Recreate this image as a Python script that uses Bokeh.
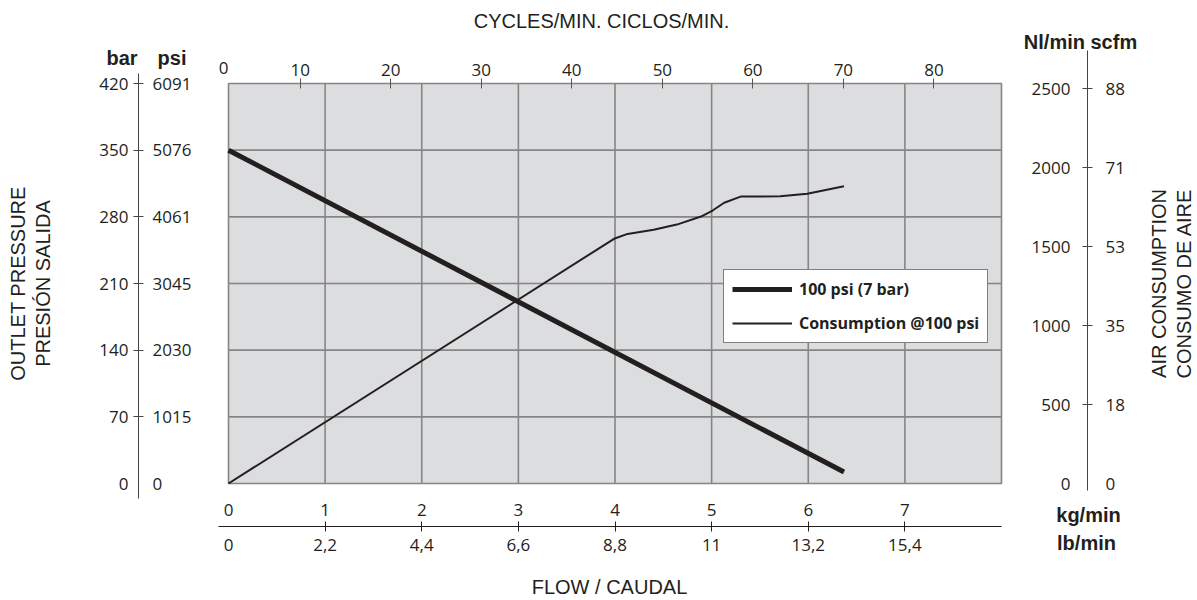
import math
from bokeh.plotting import figure
from bokeh.models import (Range1d, LinearAxis, FixedTicker, Label, Legend, LegendItem)
from bokeh.embed import file_html
from bokeh.resources import INLINE

# ---------------- data ----------------
kg_ticks = [0, 1, 2, 3, 4, 5, 6, 7]
lb_labels = ["0", "2,2", "4,4", "6,6", "8,8", "11", "13,2", "15,4"]
cycles_ticks = [0, 10, 20, 30, 40, 50, 60, 70, 80]
bar_ticks = [0, 70, 140, 210, 280, 350, 420]
psi_labels = ["0", "1015", "2030", "3045", "4061", "5076", "6091"]
nl_ticks = [0, 500, 1000, 1500, 2000, 2500]
scfm_labels = ["0", "18", "35", "53", "71", "88"]

# outlet pressure at 100 psi (7 bar) supply, bar vs kg/min
pressure_flow = [0.0, 6.37]
pressure_bar = [350, 12]

# air consumption @100 psi (Nl/min) vs kg/min
cons_flow = [0.0, 3.99, 4.13, 4.40, 4.64, 4.89, 5.01, 5.13, 5.30, 5.51, 5.71, 5.99, 6.18, 6.37]
cons_nl = [0, 1549, 1580, 1606, 1639, 1690, 1728, 1777, 1816, 1816, 1818, 1834, 1858, 1882]

# ---------------- layout ----------------
W, H = 1196, 598                 # canvas (page coordinates)
FLOW_MAX = 8                     # right edge of the chart area (kg/min)
P_MAX = bar_ticks[-1]            # top edge of the chart area (bar)
NL_MAX = 2532                    # Nl/min at the top edge
FX0, FX1, FY0, FY1 = 228, 1001, 83, 483   # chart area on the page (px)


def kx(px):   # page x -> kg/min
    return (px - FX0) * FLOW_MAX / (FX1 - FX0)


def by(py):   # page y -> bar
    return (FY1 - py) * P_MAX / (FY1 - FY0)


def ny(py):   # page y -> Nl/min
    return (FY1 - py) * NL_MAX / (FY1 - FY0)


CYC_A, CYC_S = 616.6, 9.051      # cycles scale: page x at 45 cycles, px per cycle


def cx(px):   # page x -> cycles/min
    return 45 + (px - CYC_A) / CYC_S


INK = "#231f20"
GRIDC = "#858585"
AXC = "#444444"
TICKF = "Open Sans"
TITLEF = "Liberation Sans"
TS = "17px"

p = figure(width=W, height=H, output_backend="svg", toolbar_location=None,
           x_range=Range1d(kx(0), kx(W)), y_range=Range1d(by(H), by(0)),
           x_axis_type=None, y_axis_type=None, min_border=0)
p.min_border_left = p.min_border_right = p.min_border_top = p.min_border_bottom = 0
p.outline_line_color = None
p.background_fill_color = "white"
p.border_fill_color = "white"
p.title.visible = False

p.extra_x_ranges = {"cyc": Range1d(cx(0), cx(W))}
p.extra_y_ranges = {"nl": Range1d(ny(H), ny(0))}

# chart area + grid
p.quad(left=0, right=FLOW_MAX, bottom=0, top=P_MAX, fill_color="#dcdddf", line_color=None)
p.segment(x0=kg_ticks[1:], y0=[0] * 7, x1=kg_ticks[1:], y1=[P_MAX] * 7,
          line_color=GRIDC, line_width=1.6)
p.segment(x0=[0] * 5, y0=bar_ticks[1:-1], x1=[FLOW_MAX] * 5, y1=bar_ticks[1:-1],
          line_color=GRIDC, line_width=1.6)
p.quad(left=0, right=FLOW_MAX, bottom=0, top=P_MAX, fill_color=None,
       line_color=GRIDC, line_width=1.6)


def style(ax):
    ax.major_label_text_font = TICKF
    ax.major_label_text_font_size = TS
    ax.major_label_text_color = INK
    ax.minor_tick_line_color = None


def bare(ax):
    ax.axis_line_color = None
    ax.major_tick_line_color = None
    ax.major_tick_in = 0
    ax.major_tick_out = 0


def lined(ax, color=AXC):
    ax.axis_line_color = color
    ax.major_tick_line_color = color
    ax.major_tick_in = 5
    ax.major_tick_out = 5


# ---- left scale: bar (labels left) / psi (labels right) ----
LX = kx(138)
bar_axis = LinearAxis(ticker=FixedTicker(ticks=bar_ticks[1:]), fixed_location=LX,
                      bounds=(by(498), by(73)))
style(bar_axis)
lined(bar_axis)
bar_axis.major_label_standoff = 5
p.add_layout(bar_axis, "left")

bar0_axis = LinearAxis(ticker=FixedTicker(ticks=bar_ticks[:1]), fixed_location=LX)
style(bar0_axis)
bare(bar0_axis)
bar0_axis.major_label_standoff = 10
p.add_layout(bar0_axis, "left")

psi_axis = LinearAxis(ticker=FixedTicker(ticks=bar_ticks), fixed_location=LX,
                      major_label_overrides={t: s for t, s in zip(bar_ticks, psi_labels)})
style(psi_axis)
bare(psi_axis)
psi_axis.major_label_standoff = 14
p.add_layout(psi_axis, "right")

# ---- right scale: Nl/min (labels left) / scfm (labels right) ----
RX = kx(1087)
nl_axis = LinearAxis(y_range_name="nl", ticker=FixedTicker(ticks=nl_ticks), fixed_location=RX)
style(nl_axis)
bare(nl_axis)
nl_axis.major_label_standoff = 17
p.add_layout(nl_axis, "left")

scfm_over = {t: s for t, s in zip(nl_ticks, scfm_labels)}
scfm_axis = LinearAxis(y_range_name="nl", ticker=FixedTicker(ticks=nl_ticks[1:]),
                       fixed_location=RX, bounds=(ny(490), ny(50)),
                       major_label_overrides=scfm_over)
style(scfm_axis)
lined(scfm_axis)
scfm_axis.major_label_standoff = 13
p.add_layout(scfm_axis, "right")

scfm0_axis = LinearAxis(y_range_name="nl", ticker=FixedTicker(ticks=nl_ticks[:1]),
                        fixed_location=RX, major_label_overrides=scfm_over)
style(scfm0_axis)
bare(scfm0_axis)
scfm0_axis.major_label_standoff = 18
p.add_layout(scfm0_axis, "right")

# ---- top scale: cycles/min ----
cyc_axis = LinearAxis(x_range_name="cyc", ticker=FixedTicker(ticks=cycles_ticks[1:]),
                      fixed_location=P_MAX, bounds=(cx(FX0), cx(FX1)))
style(cyc_axis)
cyc_axis.axis_line_color = None
cyc_axis.major_tick_line_color = "#555555"
cyc_axis.major_tick_in = 5
cyc_axis.major_tick_out = 5
cyc_axis.major_label_standoff = 3
p.add_layout(cyc_axis, "above")

# ---- bottom scale: kg/min (labels above line) / lb/min (labels below) ----
BY = by(526)
kg_axis = LinearAxis(ticker=FixedTicker(ticks=kg_ticks), fixed_location=BY)
style(kg_axis)
bare(kg_axis)
kg_axis.major_label_standoff = 11
p.add_layout(kg_axis, "above")

lb_over = {t: s for t, s in zip(kg_ticks, lb_labels)}
lb_axis = LinearAxis(ticker=FixedTicker(ticks=kg_ticks[1:]), fixed_location=BY,
                     bounds=(kx(218), FLOW_MAX), major_label_overrides=lb_over)
style(lb_axis)
lined(lb_axis, INK)
lb_axis.major_label_standoff = 7
p.add_layout(lb_axis, "below")

lb0_axis = LinearAxis(ticker=FixedTicker(ticks=kg_ticks[:1]), fixed_location=BY,
                      major_label_overrides=lb_over)
style(lb0_axis)
bare(lb0_axis)
lb0_axis.major_label_standoff = 12
p.add_layout(lb0_axis, "below")


# ---- texts ----
def lab(text, px, py, font=TITLEF, size="20px", style="normal", angle=0.0):
    p.add_layout(Label(x=kx(px), y=by(py), text=text, text_font=font, text_font_size=size,
                       text_font_style=style, text_color=INK, text_align="center",
                       text_baseline="middle", angle=angle, text_line_height=1.15))


lab("CYCLES/MIN. CICLOS/MIN.", 601, 20)
lab("FLOW / CAUDAL", 609, 586)
lab("OUTLET PRESSURE\nPRESIÓN SALIDA", 30, 283, angle=math.pi / 2)
lab("AIR CONSUMPTION\nCONSUMO DE AIRE", 1171, 283, angle=math.pi / 2)
lab("bar", 121.5, 57, style="bold")
lab("psi", 171.5, 57, style="bold")
lab("Nl/min scfm", 1080, 41, style="bold")
lab("kg/min", 1088, 514, style="bold")
lab("lb/min", 1086, 542, style="bold")
lab(str(cycles_ticks[0]), 223, 67, font=TICKF, size=TS)

# ---- curves ----
r1 = p.line(pressure_flow, pressure_bar, line_width=5, line_color=INK)
r2 = p.line(cons_flow, cons_nl, y_range_name="nl", line_width=2, line_color=INK)

legend = Legend(items=[LegendItem(label="100 psi (7 bar)", renderers=[r1]),
                       LegendItem(label="Consumption @100 psi", renderers=[r2])],
                location=(723, H - 343))
legend.label_text_font = TICKF
legend.label_text_font_size = "16px"
legend.label_text_font_style = "bold"
legend.label_text_color = INK
legend.glyph_width = 60
legend.glyph_height = 20
legend.label_standoff = 7
legend.padding = 8
legend.spacing = 12
legend.margin = 0
legend.border_line_color = "black"
legend.border_line_width = 1.5
legend.background_fill_color = "white"
legend.background_fill_alpha = 1.0
p.add_layout(legend, "center")

open("out.html", "w").write(file_html(p, INLINE))
